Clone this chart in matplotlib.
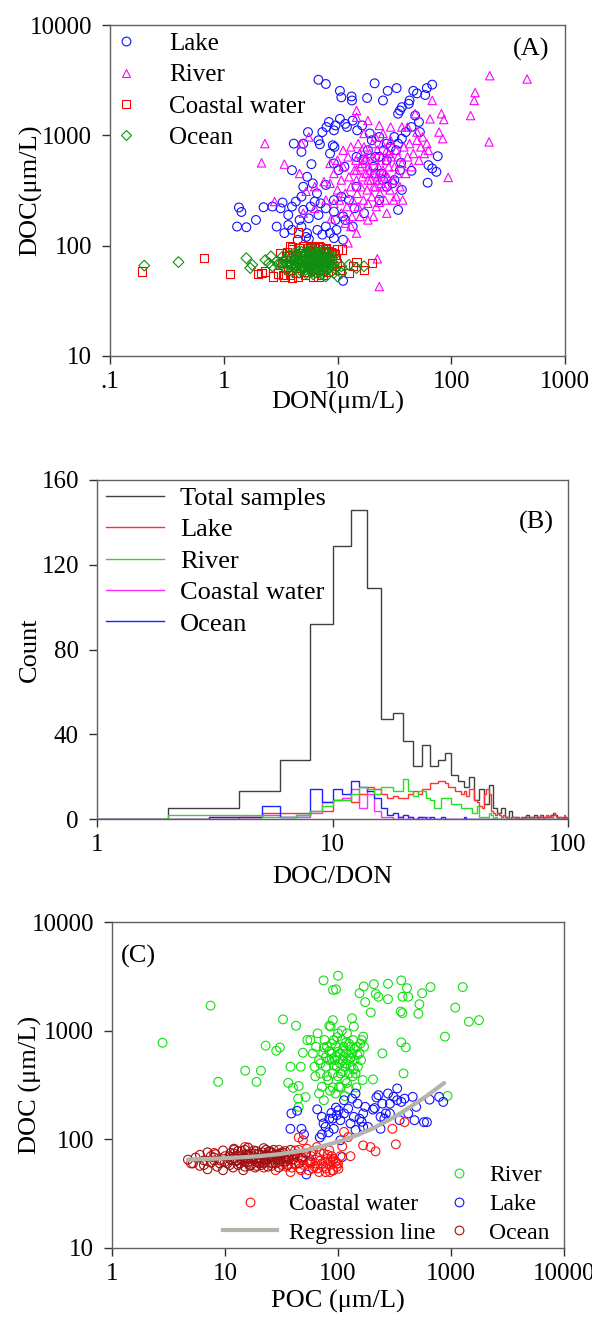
import numpy as np
import matplotlib
matplotlib.use("Agg")
import matplotlib.pyplot as plt
from matplotlib.lines import Line2D

plt.rcParams['font.family'] = ['Liberation Serif', 'DejaVu Serif']

# ---------------- panel A data (DON, DOC) ----------------
lake_a = [(6.8,3190),(7.9,2920),(10.5,2530),(10.8,2210),(13.3,2250),(13.4,2070),(18.2,2180),(21.2,2960),
          (25.1,2070),(27.6,2530),(33.1,2680),(46.4,2530),(50,2400),(61,2680),(68,2880),(59,2320),(43,2070),
          (42.3,1930),(36.8,1800),(35.4,1680),(34.1,1570),(48.2,1510),(52,1320),(44.7,1190),(39.8,1070),
          (31.6,966),(23.3,966),(20,902),(27.1,841),(29.3,785),(34.1,841),(53,1070),(36.8,933),(19.2,1040),
          (16.5,1230),(14.9,1110),(13.6,1360),(12.1,1190),(11.7,1270),(10.5,1410),(9.6,1230),(8.4,1320),
          (8.0,1190),(7.36,1070),(9.3,1110),(6.8,902),(5.5,1070),(7.0,830),(9.1,813),(9.4,785),(8.6,684),
          (5.0,841),(4.82,708),(4.13,841),(3.98,484),(5.9,548),(9.3,556),(10.2,484),(11.5,519),(14.7,638),
          (16.9,604),(21.5,638),(24.2,451),(25.1,393),(31.6,393),(35.4,484),(44.7,477),(63,537),(68,501),
          (74,467),(76,647),(62,372),(36.2,563),(30.4,367),(34.1,211),(17.1,197),(14.7,342),(12.6,259),
          (10.8,278),(9.3,259),(7.9,355),(6.6,298),(6.06,367),(5.4,421),(5.0,342),(4.82,278),(4.3,251),
          (3.98,226),(3.29,246),(3.16,218),(3.69,190),(2.92,149),(3.41,130),(4.64,171),(5.6,177),(6.8,190),
          (7.9,149),(6.65,139),(5.6,115),(5.3,120),(5.4,130),(4.82,149),(3.98,139),(5.0,211),(5.8,226),
          (6.3,251),(7.1,242),(7.9,218),(9.3,203),(9.6,171),(9.8,139),(8.6,130),(7.36,126),(11.2,113),
          (9.3,117),(2.68,226),(2.24,223),(1.36,222),(1.43,202),(1.92,171),(1.31,149),(1.58,147),(3.69,154),
          (4.47,113),(9.3,86),(11.2,48),(11.2,184),(11.7,171),(13.6,149),(14.1,218),(23.3,259),(27.1,342),
          (36.8,320),(21.5,451),(23.3,638),(27.1,595),(18.5,733),(32.8,733),(25.5,733),(20.7,519)]

river_a = [(218,3470),(464,3240),(162,2440),(159,2070),(148,1510),(215,871),(82,1570),(86,1390),(65,1410),
           (68,2070),(78,1070),(84,933),(94,415),(50,1070),(48.2,1570),(41.3,1190),(36.8,1190),(14.7,1680),
           (18.5,1360),(14.7,1460),(2.3,841),(2.15,563),(3.41,548),(4.82,841),(5.6,966),(4.64,451),(5.3,311),
           (2.8,251),(5.0,197),(6.3,218),(8.8,175),(18.5,171),(23.3,247),(22.4,76),(23.3,42.6),(12.4,106),
           (6.3,342),(7.6,380),(8.6,367),(9.3,451),(10,320),(10.4,259),(10.8,393),(11.2,519),(11.7,298),
           (12.1,226),(12.4,638),(12.6,421),(13.1,342),(13.4,184),(13.6,259),(14.1,484),(14.5,595),(14.7,393),
           (14.9,298),(15.2,226),(15.6,684),(15.8,519),(16.1,342),(16.5,421),(16.9,259),(17.1,785),(17.5,595),
           (17.8,451),(18.2,320),(18.5,242),(18.8,519),(19.2,684),(19.6,393),(20,278),(20.3,841),(20.7,451),
           (21.2,595),(21.5,342),(21.9,226),(22.4,733),(22.9,519),(23.3,393),(23.6,298),(24.2,638),(24.7,841),
           (25.1,484),(25.5,342),(26.1,259),(26.7,595),(27.1,733),(27.6,421),(28.2,519),(28.9,320),(29.3,902),
           (29.7,638),(30.4,393),(31.1,259),(31.6,519),(32.8,733),(33.6,451),(34.1,638),(35.4,342),(36.8,556),
           (38.3,785),(39.8,451),(41.3,638),(43,841),(44.7,519),(46.4,684),(50,902),(54,785),(58,684),(56,966),
           (52,595),(61,841),(63,733),(37.4,259),(32.8,278),(27.1,197),(20.7,184),(15.8,184),(13.1,149),
           (11.7,160),(14.7,130),(10.8,197),(9.3,242),(7.9,259),(17.1,1040),(21.5,966),(25.1,1040),(29.3,1190),
           (23.3,1230),(15.2,841),(13.1,785),(11.2,733),(10,595),(8.6,556),(16.5,556),(19.2,484),(22.4,421),
           (26.1,451),(17.8,638),(20.7,342),(24.2,367),(14.7,484),(28.2,684),(18.5,393)]

coastal_a = [(0.19,58.5),(0.67,77),(1.13,55.6),(2.0,55.6),(2.32,58.5),(2.7,52.6),(4.47,132),(11,92),(14.7,71),
             (20,69.5),(12.6,56.5),(13.6,65),(17.1,60.6),(3.8,98.6),(3.16,86),(5.8,98.6),(6.8,100),(2.15,56.5),
             (3.41,52.6),(3.98,51),(6.8,52),(3.29,69.5),(3.55,80),(3.69,60.6),(3.98,92),(4.13,69.5),(4.3,56.5),
             (4.64,86),(4.82,65),(5.0,98.6),(5.2,74),(5.4,58.5),(5.6,89),(5.8,67),(6.06,80),(6.3,95),(6.5,60.6),
             (6.8,74),(7.0,89),(7.36,65),(7.6,80),(7.9,95),(8.2,58.5),(8.6,74),(8.9,86),(9.3,65),(9.6,77),
             (10,92),(10.4,60.6),(3.8,54.5),(4.47,52.6),(5.2,54.5),(6.06,52.6),(7.36,54.5),(5.5,95),(6.7,97),
             (7.4,93),(8.4,90),(3.0,56),(3.3,54),(4.0,96),(4.6,95),(5.8,99),(6.2,97),(7.0,96),(7.8,93),(8.8,88),
             (9.5,83),(3.6,88),(9.8,70),(10.5,60)]

ocean_a = [(0.2,66),(0.4,71),(1.58,77),(1.71,62.7),(1.78,67),(2.32,74),(2.6,80),(2.68,65),(10.8,65),(12.6,67),
           (14.7,62.7),(17.1,65),(10,52.6),(9.3,56.5),(7.9,52.6),(10.8,56.5),(2.5,69.5),(2.92,72),
           (3.2,70),(3.4,64),(3.5,76),(3.6,60),(3.7,72),(3.8,82),(3.9,66),(4.0,58),(4.1,74),(4.2,86),(4.3,63),
           (4.4,70),(4.5,79),(4.6,57),(4.7,67),(4.8,88),(4.9,73),(5.0,61),(5.1,82),(5.2,68),(5.3,56),(5.4,76),
           (5.5,90),(5.6,64),(5.7,71),(5.8,84),(5.9,59),(6.0,78),(6.1,66),(6.2,92),(6.3,72),(6.4,57),(6.5,81),
           (6.6,63),(6.7,87),(6.8,69),(6.9,75),(7.0,60),(7.2,83),(7.3,67),(7.4,73),(7.6,58),(7.7,79),(7.8,64),
           (8.0,70),(8.2,85),(8.3,61),(8.5,75),(8.7,66),(9.0,71),(9.2,80),(9.5,62),(3.3,80),(3.0,68),(4.4,83),
           (5.0,71),(5.5,65),(6.0,69),(6.5,73),(7.0,77),(5.8,74),(6.3,62),(4.8,64),(5.3,85),(6.8,58),(7.5,90),
           (4.0,68),(5.6,79),(6.1,55),(7.9,75),
           (4.2,62),(4.6,74),(5.0,78),(5.4,66),(5.8,62),(6.2,76),(6.6,70),(7.0,66),(7.4,82),(7.8,70),(8.2,66),
           (8.6,80),(4.4,66),(4.9,80),(5.2,60),(5.7,87),(6.1,83),(6.4,66),(6.9,62),(7.2,72),(7.6,76),(8.1,60),
           (3.6,68),(3.9,75),(4.3,78),(4.7,60),(5.1,64),(5.5,73),(6.0,58),(6.7,79),(7.1,86),(8.4,71),(8.9,76),
           (3.4,72),(9.3,68),(5.3,70),(6.4,85),(7.3,55),(4.5,88),(5.9,92)]

# ---------------- panel B data (DOC/DON histograms) ----------------
total_counts = [0, 5, 13, 28, 92, 129, 146, 109, 47, 50,
                37, 25, 35, 25, 28, 31, 21, 18, 15, 20,
                9, 14, 7, 16, 5, 3, 5, 1, 4, 1,
                1, 0, 1, 2, 1, 1, 2, 1, 2, 1,
                1, 1, 2, 3, 2, 1, 1, 0, 1, 0]
lake_counts = [0, 0, 0, 1, 3, 3, 3, 4, 4, 9,
               10, 8, 12, 15, 14, 12, 10, 11, 10, 10,
               12, 13, 12, 14, 14, 17, 17, 18, 18, 17,
               15, 15, 13, 13, 12, 13, 11, 14, 14, 9,
               8, 6, 5, 12, 14, 12, 4, 3, 2, 3,
               2, 1, 2, 1, 1, 0, 1, 1, 1, 0,
               1, 0, 1, 1, 0, 1, 1, 0, 1, 1,
               0, 1, 1, 0, 1, 2, 1, 0, 1, 1,
               2, 1, 1, 2, 1, 2, 3, 2, 1, 1,
               0, 1, 1, 0, 1, 2, 1, 0, 1]
river_counts = [0, 2, 2, 2, 1, 1, 2, 4, 6, 9,
                9, 12, 15, 14, 12, 15, 15, 13, 13, 19,
                13, 11, 13, 13, 10, 9, 5, 5, 10, 10,
                10, 7, 7, 7, 5, 5, 5, 5, 3, 3,
                6, 1, 1, 1, 1, 3, 2, 0, 1, 0] + [0] * 49
coastal_counts = [0, 0, 1, 1, 2, 1, 1, 3, 8, 9,
                  10, 14, 5, 12, 4, 1, 1, 0, 1, 0,
                  1, 0, 1, 0, 1] + [0] * 74
ocean_counts = [0, 0, 1, 1, 6, 1, 2, 14, 8, 14,
                12, 18, 15, 13, 10, 5, 2, 3, 1, 2,
                1, 0, 1, 1, 0, 1, 0, 0, 1, 0,
                0, 0, 0, 0, 0, 1] + [0] * 63

# ---------------- panel C data (POC, DOC) ----------------
river_c = [(2.8,774),(7.45,1700),(8.7,338),(15.1,428),(19,338),(20.8,428),(22.9,728),(28.4,653),(30.6,700),
           (32.6,1270),(42.5,1110),(36.3,331),(40,298),(44.9,310),(38,466),(46.8,466),(48.9,627),(53.5,820),
           (44.4,237),(51.6,245),(44.9,199),(74.5,2900),(100,3200),(90.4,2370),(96,2400),(155,2210),(169,2550),
           (174,1830),(195,1470),(208,2680),(216,2180),(228,2050),(277,1950),(277,2700),(363,2900),(408,2460),
           (372,2050),(418,2050),(372,1450),(359,1500),(514,1430),(525,1750),(556,2210),(659,2520),(1270,2520),
           (1090,1630),(1440,1210),(1770,1250),(884,881),(363,780),(398,702),(380,404),(933,251),(247,618),
           (204,356),(162,820),(133,1300),(167,881),(138,1090),(90,1250),(83.8,1110),
           (57,820),(60,618),(62,466),(64,711),(66,944),(68,536),(70,404),(72,304),(74,618),(76,820),(78,466),
           (80,711),(82,351),(84,536),(86,1090),(88,618),(90,404),(92,820),(94,536),(96,711),(98,466),(100,944),
           (102,304),(104,618),(106,404),(108,820),(110,536),(112,711),(114,466),(116,351),(118,618),(120,944),
           (122,536),(125,404),(128,711),(130,466),(133,618),(136,820),(140,536),(143,404),(147,711),(150,466),
           (155,618),(160,536),(165,351),(170,711),(68,264),(75,229),(85,280),(95,264),(105,300),(115,250),
           (125,290),(80,380),(90,300),(100,380),(110,420),(120,330),(135,380),(145,300),(63,380),(70,500),
           (78,570),(88,760),(98,870),(108,1000),(118,780),(128,560),(138,440),(148,600),(158,760),(96,580),
           (104,500),(112,580),(84,650),(92,480),(100,640),(118,500),(130,560),(75,700),(88,550),(110,650),
           (125,760),(140,680)]

lake_c = [(38.7,173),(43.5,183),(37.9,125),(47.5,125),(50,111),(65.5,189),(74.5,140),(72,111),(82.6,116),
          (91.7,125),(90,155),(101,185),(105,150),(113,173),(123,192),(129,140),(138,161),(149,213),(155,155),
          (167,173),(174,199),(184,130),(204,188),(219,243),(228,255),(238,125),(247,213),(265,173),(277,264),
          (288,213),(310,246),(334,294),(363,221),(388,237),(334,229),(418,173),(458,246),(492,199),(577,144),
          (612,144),(646,232),(785,246),(853,221),(475,150),(351,150),(288,173),(257,155),(211,194),(238,161),
          (143,264),(133,237),(113,229),(96,196),(87.5,175),(77.6,130),(52.5,47.5),(56.9,61.8),(69,104),
          (105,98),(109,68.7),(167,130),(143,122),(162,145),(83.8,155),(97.5,167),(72,161)]

coastal_c = [(20,62),(22,55),(25,70),(28,52),(30,62),(33,75),(35,56),(36,66),(38,50),(40,72),(42,60),(45,80),
             (46,54),(48,66),(50,58),(52,74),(55,52),(57,64),(60,78),(62,56),(66,68),(68,50),(72,60),(75,74),
             (78,54),(80,66),(84,58),(88,70),(90,52),(95,62),(98,56),(41.8,79),(48.9,64),(57,60),(66,54),
             (77.6,62),(83.8,79),(36,69),(41.8,59),(30,80),(65,85),(55,62),(70,64),(85,50),(92,66),(100,60),
             (105,70),(167,88),(194,85),(215,77.5),(303,125),(325,90),(388,144),(129,70),(109,86),(113,117),
             (123,105),(48.9,98),(44.9,104),(90,64),(97.5,59.6),(101,53.6),(90,51.6),(77.6,49.9),(15,85),
             (12,80),(8,75),(5,60),(32,58),(44,68),(58,70),(63,60),(74,56),(86,63),(39,55),(53,82),(69,76),
             (26,57),(34,66),(47,52),(60,54),(81,72)]

ocean_c = [(4.7,65),(5.2,60),(5.5,68),(6.0,72),(6.0,57),(6.5,64),(7.0,76),(7.0,53),(7.5,61),(8.0,68),(8.2,73),
           (8.5,56),(9.0,64),(9.6,79),(9.6,52),(10,70),(10.5,60),(11,66),(11.2,75),(11.8,55),(12,82),(12.5,63),
           (13,71),(13.1,58),(13.8,67),(14,78),(14.5,52),(15,62),(15.3,73),(16,84),(16.5,57),(17,66),(17.8,70),
           (18,79),(18.5,55),(19,62),(20,74),(20.8,67),(21,58),(22,83),(22.5,64),(23,71),(24,56),(24.3,77),
           (25,62),(26,69),(27,80),(28,60),(28.4,73),(30,55),(31,66),(32,76),(33,62),(35,70),(36,58),(38,80),
           (40,65),(42,73),(45,60),(48,68),(52,75),(11,70),(14,64),(17,74),(20,60),(25,68),(30,72),(9,60),
           (12,67),(15,56),(18,68),(22,60),(27,66),(35,63),(8,64),(16,72),(26,75),(13,78),(19,66),(23,80),
           (7.5,70),(6.5,58),
           (10,62),(11,58),(12,74),(13,64),(14,70),(15,80),(16,62),(17,58),(18,74),(19,78),(20,66),(21,72),
           (22,68),(23,62),(24,66),(25,78),(26,60),(28,68),(29,64),(31,74),(33,68),(34,78),(37,66),(39,72),
           (16,66),(19,57),(13.5,60),(21.5,76),(24.5,70),(27.5,72),(11.5,64),(14.8,68)]

reg_poc = [4.7, 7, 10, 15, 20, 30, 50, 70, 100, 150, 200, 300, 400, 600, 870]
reg_doc = [65, 66, 67, 68.6, 70, 73, 79, 85.5, 95, 110, 125, 156, 187, 248, 330]

SPINE = '#606060'
TICK_FS = 18
LAB_FS = 19


def style_axes(ax):
    for s in ax.spines.values():
        s.set_color(SPINE)
        s.set_linewidth(1.0)
    ax.tick_params(which='both', direction='out', top=False, right=False,
                   length=6, width=1, color='#303030', labelsize=TICK_FS)
    ax.tick_params(axis='y', pad=7)
    ax.tick_params(axis='x', pad=5)
    ax.minorticks_off()


def sc(ax, data, marker, color, size=40, lw=0.8):
    arr = np.array(data)
    ax.scatter(arr[:, 0], arr[:, 1], marker=marker, s=size, facecolors='none',
               edgecolors=color, linewidths=lw)


def mk(marker, color, ms=6.3):
    return Line2D([], [], ls='none', marker=marker, mfc='none', mec=color, ms=ms, mew=0.8)


fig = plt.figure(figsize=(5.92, 13.17), dpi=100)

# ---------------- (A) ----------------
axA = fig.add_axes([110/592, 1-356/1317, 455/592, 331/1317])
axA.set_xscale('log')
axA.set_yscale('log')
sc(axA, lake_a, 'o', '#1010ff')
sc(axA, river_a, '^', '#ff00ff', size=36)
sc(axA, coastal_a, 's', '#ff0000', size=36)
sc(axA, ocean_a, 'D', '#109010', size=30)
axA.set_xlim(0.1, 1000)
axA.set_ylim(10, 10000)
style_axes(axA)
axA.minorticks_off()
axA.set_xticks([0.1, 1, 10, 100, 1000])
axA.set_xticklabels(['.1', '1', '10', '100', '1000'])
axA.set_yticks([10, 100, 1000, 10000])
axA.set_yticklabels(['10', '100', '1000', '10000'])
axA.set_xlabel('DON(μm/L)', fontsize=LAB_FS)
axA.set_ylabel('DOC(μm/L)', fontsize=LAB_FS)
axA.xaxis.set_label_coords(0.5, -0.105)
axA.yaxis.set_label_coords(-0.15, 0.5)
axA.text(0.965, 0.96, '(A)', transform=axA.transAxes, ha='right', va='top', fontsize=LAB_FS)
hA = [mk('o', '#1010ff'), mk('^', '#ff00ff'), mk('s', '#ff0000', 5.8), mk('D', '#109010', 5.2)]
axA.legend(hA, ['Lake', 'River', 'Coastal water', 'Ocean'], loc='upper left',
           bbox_to_anchor=(-0.03, 1.03), frameon=False, fontsize=18, handlelength=1.0,
           handletextpad=1.2, labelspacing=0.35, borderaxespad=0.3)

# ---------------- (B) ----------------
axB = fig.add_axes([97/592, 1-819/1317, 471/592, 339/1317])
axB.set_xscale('log')
tot_edges = np.concatenate(([1], np.arange(2, 101, 2)))
sub_edges = np.arange(1, 101)
axB.stairs(total_counts, tot_edges, color='#404040', lw=1.0)
axB.stairs(lake_counts, sub_edges, color='#ff3030', lw=1.0)
axB.stairs(coastal_counts, sub_edges, color='#ff30ff', lw=1.0)
axB.stairs(ocean_counts, sub_edges, color='#2020ff', lw=1.0)
axB.stairs(river_counts, sub_edges, color='#20e020', lw=1.0)
axB.set_xlim(1, 100)
axB.set_ylim(0, 160)
style_axes(axB)
axB.minorticks_off()
axB.set_xticks([1, 10, 100])
axB.set_xticklabels(['1', '10', '100'])
axB.set_yticks([0, 40, 80, 120, 160])
axB.set_xlabel('DOC/DON', fontsize=LAB_FS)
axB.set_ylabel('Count', fontsize=LAB_FS)
axB.xaxis.set_label_coords(0.5, -0.14)
axB.yaxis.set_label_coords(-0.12, 0.5)
axB.text(0.97, 0.91, '(B)', transform=axB.transAxes, ha='right', va='top', fontsize=LAB_FS)
hB = [Line2D([], [], color=c, lw=1.0) for c in ['#404040', '#ff3030', '#20e020', '#ff30ff', '#2020ff']]
axB.legend(hB, ['Total samples', 'Lake', 'River', 'Coastal water', 'Ocean'], loc='upper left',
           bbox_to_anchor=(-0.02, 1.035), frameon=False, fontsize=LAB_FS, handlelength=2.2,
           handletextpad=0.6, labelspacing=0.3, borderaxespad=0.3)

# ---------------- (C) ----------------
axC = fig.add_axes([112/592, 1-1248/1317, 452/592, 326/1317])
axC.set_xscale('log')
axC.set_yscale('log')
sc(axC, river_c, 'o', '#10e010')
sc(axC, lake_c, 'o', '#1010ff')
sc(axC, coastal_c, 'o', '#ff1010')
sc(axC, ocean_c, 'o', '#a01010')
axC.plot(reg_poc, reg_doc, color='#b4b4ac', lw=3, solid_capstyle='round')
axC.set_xlim(1, 10000)
axC.set_ylim(10, 10000)
style_axes(axC)
axC.minorticks_off()
axC.set_xticks([1, 10, 100, 1000, 10000])
axC.set_xticklabels(['1', '10', '100', '1000', '10000'])
axC.set_yticks([10, 100, 1000, 10000])
axC.set_yticklabels(['10', '100', '1000', '10000'])
axC.set_xlabel('POC (μm/L)', fontsize=LAB_FS)
axC.set_ylabel('DOC (μm/L)', fontsize=LAB_FS)
axC.xaxis.set_label_coords(0.5, -0.13)
axC.yaxis.set_label_coords(-0.155, 0.5)
axC.text(0.02, 0.93, '(C)', transform=axC.transAxes, ha='left', va='top', fontsize=LAB_FS)
hC1 = [mk('o', '#10e010'), mk('o', '#1010ff'), mk('o', '#a01010')]
legC1 = axC.legend(hC1, ['River', 'Lake', 'Ocean'], loc='lower right', bbox_to_anchor=(1.0, -0.03),
                   frameon=False, fontsize=17, handletextpad=0.8, handlelength=1.0,
                   labelspacing=0.3, borderaxespad=0.2)
axC.add_artist(legC1)
hC2 = [mk('o', '#ff1010'), Line2D([], [], color='#b4b4ac', lw=3)]
axC.legend(hC2, ['Coastal water', 'Regression line'], loc='lower right', bbox_to_anchor=(0.746, -0.03),
           frameon=False, fontsize=17, handletextpad=0.47, handlelength=2.3, labelspacing=0.3,
           borderaxespad=0.2)

fig.savefig('out.png', dpi=100)
